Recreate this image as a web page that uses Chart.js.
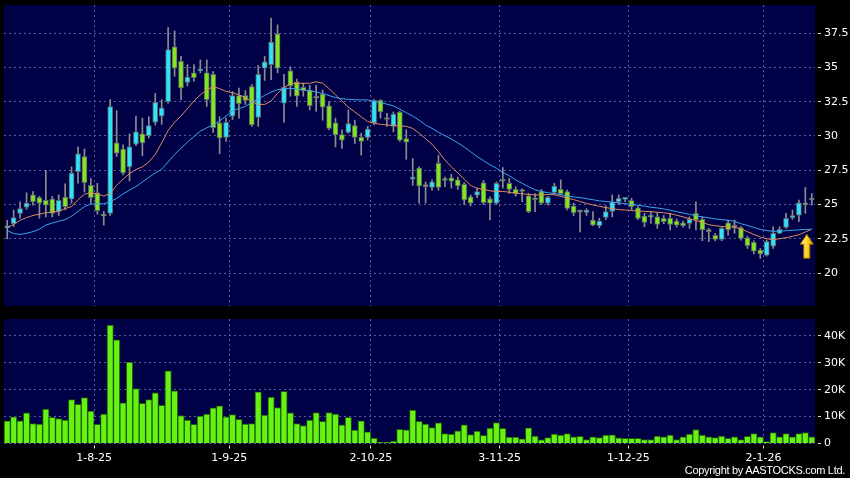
<!DOCTYPE html>
<html><head><meta charset="utf-8">
<script src="https://cdn.jsdelivr.net/npm/chart.js@4.4.1/dist/chart.umd.min.js"></script>
<style>
html,body{margin:0;padding:0;background:#000;width:850px;height:478px;overflow:hidden;}
#c1{position:absolute;left:0;top:0;}
#c2{position:absolute;left:0;top:312px;}
#copy{position:absolute;right:5px;top:464px;color:#fff;font:11px 'Liberation Sans',sans-serif;letter-spacing:-0.3px;line-height:13px;white-space:nowrap;}
</style></head><body>
<canvas id="c1" width="850" height="312"></canvas>
<canvas id="c2" width="850" height="166"></canvas>
<div id="copy">Copyright by AASTOCKS.com Ltd.</div>
<script>
const dates = [
'14-7-25','15-7-25','16-7-25','17-7-25','18-7-25','21-7-25','22-7-25','23-7-25','24-7-25','25-7-25','28-7-25','29-7-25','30-7-25','31-7-25',
'1-8-25','4-8-25','5-8-25','6-8-25','7-8-25','8-8-25','11-8-25','12-8-25','13-8-25','14-8-25','15-8-25','18-8-25','19-8-25','20-8-25','21-8-25','22-8-25','25-8-25','26-8-25','27-8-25','28-8-25','29-8-25',
'1-9-25','2-9-25','3-9-25','4-9-25','5-9-25','8-9-25','9-9-25','10-9-25','11-9-25','12-9-25','15-9-25','16-9-25','17-9-25','18-9-25','19-9-25','22-9-25','23-9-25','24-9-25','25-9-25','26-9-25','29-9-25','30-9-25',
'2-10-25','3-10-25','6-10-25','8-10-25','9-10-25','10-10-25','13-10-25','14-10-25','15-10-25','16-10-25','17-10-25','20-10-25','21-10-25','22-10-25','23-10-25','24-10-25','27-10-25','28-10-25','30-10-25','31-10-25',
'3-11-25','4-11-25','5-11-25','6-11-25','7-11-25','10-11-25','11-11-25','12-11-25','13-11-25','14-11-25','17-11-25','18-11-25','19-11-25','20-11-25','21-11-25','24-11-25','25-11-25','26-11-25','27-11-25','28-11-25',
'1-12-25','2-12-25','3-12-25','4-12-25','5-12-25','8-12-25','9-12-25','10-12-25','11-12-25','12-12-25','15-12-25','16-12-25','17-12-25','18-12-25','19-12-25','22-12-25','23-12-25','24-12-25','29-12-25','30-12-25','31-12-25',
'2-1-26','5-1-26','6-1-26','7-1-26','8-1-26','9-1-26','12-1-26','13-1-26'];
const tickLabels = ['1-8-25','1-9-25','2-10-25','3-11-25','1-12-25','2-1-26'];
const priceTicks = [20,22.5,25,27.5,30,32.5,35,37.5];
const volTicks = [0,10,20,30,40];
const volTickLabels = ['0','10K','20K','30K','40K'];

const open = [
23.3,23.6,24.35,24.8,25.7,25.5,25.3,25.4,24.5,25.55,
25.4,27.4,28.5,26.4,25.85,24.15,24.35,29.5,29.05,27.75,
29.4,30.15,30.0,31.0,31.45,32.5,36.5,35.45,33.9,34.6,
34.75,34.6,34.5,30.95,29.9,31.45,32.95,32.95,33.6,31.35,
34.95,35.2,37.45,32.4,34.75,33.95,33.55,33.35,32.75,33.05,
32.2,30.95,30.1,30.25,30.75,29.9,29.9,30.95,32.6,31.2,
30.7,31.75,29.8,26.85,27.65,26.3,26.25,28.0,26.8,26.95,
26.8,26.47,25.57,25.69,26.59,25.42,25.09,26.7,26.55,26.1,
25.95,25.64,25.35,25.94,25.09,25.89,26.1,25.94,24.89,24.45,
24.43,23.87,23.45,24.06,24.5,25.2,25.38,25.28,24.75,24.16,
24.08,24.11,23.99,23.99,23.8,23.67,23.63,24.36,23.92,23.02,
22.75,22.46,23.67,23.35,23.31,22.58,22.24,21.68,21.31,21.97,
22.9,23.33,24.04,24.23,24.97,25.33];
const close = [
23.35,24.05,24.7,25.1,25.2,25.1,24.95,24.35,25.3,24.85,
27.3,28.7,26.6,25.5,24.55,24.15,32.15,28.75,27.3,29.2,
30.3,29.5,30.75,32.45,32.05,36.3,34.95,33.5,34.3,34.25,
34.85,32.65,30.6,29.85,31.0,32.95,32.35,32.6,30.8,34.5,
35.4,36.85,34.95,33.55,33.65,32.9,33.3,32.2,32.75,32.1,
30.55,30.1,29.7,30.9,29.9,29.6,30.5,32.6,31.75,31.2,
31.6,29.7,29.55,26.95,26.35,26.3,26.65,26.25,26.75,26.7,
26.35,25.33,25.09,25.95,25.13,25.09,26.55,26.7,26.1,25.8,
25.95,24.48,25.35,25.09,25.52,26.35,25.8,24.72,24.4,24.45,
24.6,23.5,23.8,24.48,25.2,25.45,25.4,24.84,23.99,23.7,
24.2,23.55,23.75,23.55,23.5,23.45,23.92,23.87,23.14,23.02,
22.46,23.26,23.14,23.35,22.53,22.0,21.6,21.39,22.29,22.9,
23.19,23.99,24.06,25.13,24.97,25.33];
const high = [
23.85,24.6,25.2,25.85,25.95,25.6,27.5,25.6,25.7,26.5,
27.75,29.2,29.05,26.9,26.55,24.5,32.65,31.85,29.35,30.15,
31.45,31.3,31.4,33.1,32.65,37.9,37.65,35.8,35.2,35.2,
35.55,35.55,34.7,31.4,31.3,33.25,33.5,33.3,33.75,35.15,
35.8,38.6,38.1,34.5,35.05,34.15,33.85,33.7,33.7,33.35,
32.5,31.3,30.45,31.9,31.15,30.2,30.7,32.65,32.65,31.65,
31.75,31.8,30.45,28.35,27.75,26.65,26.8,28.6,27.0,27.2,
27.0,26.6,25.7,26.2,26.75,25.57,26.65,27.7,26.9,26.3,
26.15,25.8,25.8,26.1,25.6,26.55,26.8,26.05,25.1,24.6,
24.7,24.48,24.0,24.9,25.7,25.7,25.5,25.45,24.85,24.36,
24.48,24.4,24.2,24.36,23.95,23.8,24.1,25.2,24.1,23.26,
22.9,23.38,23.87,23.87,23.4,22.7,22.35,21.8,22.41,23.38,
23.38,24.36,24.6,25.33,26.25,25.8];
const low = [
22.5,23.4,24.0,24.65,24.95,24.0,24.1,24.1,24.2,24.6,
25.1,26.55,25.9,25.1,24.3,23.5,24.2,28.5,27.15,26.7,
29.3,28.55,29.85,30.8,30.85,32.4,34.35,32.65,33.65,34.0,
34.6,32.15,30.25,28.7,29.6,31.2,31.3,32.3,30.7,30.7,
34.05,34.1,34.6,31.0,32.9,32.15,32.9,31.9,31.8,31.15,
30.45,29.2,29.1,30.2,29.45,28.6,29.7,30.8,31.3,30.7,
30.3,29.6,28.3,26.4,25.1,25.1,26.05,26.05,26.3,26.2,
26.1,25.0,24.9,25.5,25.0,23.87,25.0,26.2,25.8,25.6,
25.2,24.4,24.48,25.0,24.95,25.75,25.7,24.6,24.2,23.0,
24.2,23.45,23.3,23.9,24.1,25.0,25.2,24.6,23.9,23.38,
23.63,23.26,23.6,23.14,23.35,23.35,23.26,23.14,22.36,22.29,
22.35,22.36,22.77,22.9,22.4,21.8,21.4,21.07,21.24,21.8,
22.9,23.26,23.92,23.75,24.36,24.96];
const ma10 = [
23.3,23.55,23.85,24.05,24.2,24.3,24.4,24.45,24.5,24.7,
24.85,25.35,25.75,25.85,25.77,25.62,25.8,26.4,26.85,27.25,
27.55,27.75,28.1,28.65,29.5,30.4,31.0,31.45,32.0,32.55,
33.0,33.35,33.6,33.45,33.25,33.15,33.0,32.8,32.5,32.3,
32.3,32.55,33.1,33.55,33.8,33.84,33.84,33.84,33.95,33.85,
33.45,33.0,32.55,32.1,31.75,31.4,31.05,30.92,30.85,30.8,
30.77,30.73,30.7,30.55,30.2,29.8,29.4,28.85,28.25,27.75,
27.3,26.85,26.4,26.18,26.1,26.0,25.95,25.95,25.9,25.83,
25.78,25.74,25.7,25.71,25.72,25.72,25.6,25.47,25.36,25.22,
25.08,24.97,24.87,24.78,24.7,24.63,24.6,24.56,24.53,24.5,
24.48,24.44,24.4,24.33,24.22,24.1,23.96,23.83,23.7,23.53,
23.45,23.4,23.37,23.34,23.22,23.02,22.82,22.63,22.5,22.45,
22.5,22.58,22.68,22.8,23.0,23.2];
const ma20 = [
23.1,22.88,22.82,22.9,23.02,23.2,23.5,23.65,23.78,23.9,
24.15,24.5,24.85,25.04,25.04,25.06,25.2,25.45,25.77,26.05,
26.3,26.65,26.98,27.3,27.58,28.1,28.65,29.1,29.55,29.95,
30.35,30.6,30.8,31.1,31.45,31.85,32.0,32.15,32.45,32.7,
32.95,33.2,33.38,33.45,33.48,33.42,33.36,33.3,33.2,33.1,
32.95,32.8,32.72,32.67,32.64,32.63,32.63,32.52,32.43,32.32,
32.19,31.95,31.7,31.45,31.15,30.8,30.55,30.27,30.02,29.78,
29.5,29.2,28.85,28.5,28.2,27.9,27.65,27.35,27.1,26.8,
26.55,26.3,26.08,25.95,25.86,25.8,25.72,25.63,25.55,25.5,
25.43,25.35,25.27,25.22,25.17,25.12,25.06,25.0,24.95,24.88,
24.8,24.75,24.68,24.58,24.48,24.38,24.28,24.18,24.1,24.03,
23.95,23.9,23.85,23.78,23.6,23.47,23.33,23.18,23.1,23.05,
23.06,23.09,23.12,23.15,23.18,23.2];
const vol = [
8.4,9.9,8.4,11.4,7.4,7.2,12.8,9.7,9.3,8.7,
16.3,14.6,17.1,12.1,7.1,10.9,44.0,38.6,15.1,30.3,
20.4,14.9,16.3,18.8,14.2,27.0,19.6,10.4,8.7,7.1,
10.2,10.9,13.3,14.0,9.9,10.8,9.0,7.2,7.4,19.2,
10.6,17.3,13.4,19.4,11.4,7.4,6.7,8.7,11.5,8.2,
11.5,10.9,6.9,9.7,5.0,8.4,4.3,2.0,0.4,0.4,
0.9,5.3,5.1,12.4,8.2,7.2,5.9,7.7,3.7,3.5,
4.7,6.9,3.3,4.6,3.0,5.7,7.8,5.6,2.4,2.4,
1.7,5.8,2.8,1.4,2.2,3.5,3.1,3.7,2.5,2.7,
1.5,2.5,2.2,3.1,3.2,2.1,1.9,1.9,1.9,1.5,
1.5,2.8,2.5,3.1,1.5,2.5,3.5,5.2,3.1,2.5,
2.2,2.8,1.9,2.5,1.5,2.7,3.7,2.5,0.7,4.1,
2.5,3.7,2.5,3.7,4.1,2.5];

const NAVY = '#000046';
const GRID = '#575c9c';
const UP = '#30e3fb', DOWN = '#80e61e', FLAT = '#a3ad92';
const FONT = {family:'DejaVu Sans', size:11};
const isMonth = dates.map(d => tickLabels.includes(d));

const bgPlugin = {id:'bg', beforeDraw(c){const a=c.chartArea, ctx=c.ctx; ctx.save(); ctx.fillStyle=NAVY; ctx.fillRect(a.left,a.top,a.right-a.left,a.bottom-a.top); ctx.restore();}};

function xAxis(showLabels){
  return {
    type:'category', offset:true,
    grid:{offset:true, color:(c)=> isMonth[c.index] ? GRID : 'rgba(0,0,0,0)', lineWidth:1, borderDash:[2,3],
      drawTicks:showLabels, tickLength:5, tickWidth:1,
      tickColor:(c)=> isMonth[c.index] ? '#e0e0e0' : 'rgba(0,0,0,0)', tickBorderDash:[0,1.5,3.5,10]},
    border:{display:false, dash:[2,3]},
    ticks:{display:showLabels, autoSkip:false, maxRotation:0, minRotation:0, color:'#ffffff', font:FONT, padding:3, labelOffset:-3.2,
      callback:(v,i)=> isMonth[i] ? dates[i] : ''},
    afterFit:(s)=>{ s.height = showLabels ? 22 : 0; s.paddingLeft = 0; s.paddingRight = 0; }
  };
}
function yAxis(min,max,tickVals,fmt){
  return {
    position:'right', min:min, max:max,
    afterBuildTicks:(s)=>{ s.ticks = tickVals.map(v=>({value:v})); },
    grid:{color:GRID, lineWidth:1, borderDash:[2,3], tickLength:6, tickColor:'#e0e0e0', tickBorderDash:[0,3,3,10]},
    border:{display:false, dash:[2,3]},
    ticks:{color:'#ffffff', font:FONT, padding:3, callback:fmt},
    afterFit:(s)=>{ s.width = 35; s.paddingTop = 0; s.paddingBottom = 0; }
  };
}

const arrowPlugin = {id:'arrow', afterDatasetsDraw(c){
  const ctx=c.ctx, xs=c.scales.x, ys=c.scales.y, n=ma20.length-1;
  const cx = xs.getPixelForValue(n) - 5;
  const tip = ys.getPixelForValue(Math.min(ma10[n],ma20[n])) + 5;
  const headH = 10, totH = 24, hw = 6.5, sw = 3;
  ctx.save();
  const g = ctx.createLinearGradient(cx-hw,0,cx+hw,0);
  g.addColorStop(0,'#fff6a0'); g.addColorStop(0.5,'#ffd42a'); g.addColorStop(1,'#e8a300');
  ctx.fillStyle=g; ctx.strokeStyle='#a06a00'; ctx.lineWidth=1;
  ctx.beginPath();
  ctx.moveTo(cx, tip);
  ctx.lineTo(cx+hw, tip+headH);
  ctx.lineTo(cx+sw, tip+headH);
  ctx.lineTo(cx+sw, tip+totH);
  ctx.lineTo(cx-sw, tip+totH);
  ctx.lineTo(cx-sw, tip+headH);
  ctx.lineTo(cx-hw, tip+headH);
  ctx.closePath();
  ctx.fill(); ctx.stroke();
  ctx.restore();
}};

const bodyColors = open.map((o,i)=> close[i]>o ? UP : (close[i]<o ? DOWN : FLAT));

new Chart(document.getElementById('c1'), {
  type:'bar',
  data:{labels:dates, datasets:[
    {type:'line', data:ma20, borderColor:'#3aa6ee', borderWidth:1, pointRadius:0, tension:0, order:0},
    {type:'line', data:ma10, borderColor:'#df8a5c', borderWidth:1, pointRadius:0, tension:0, order:1},
    {type:'bar', data:open.map((o,i)=>[o,close[i]]), backgroundColor:bodyColors, borderColor:'#5d6a6a', borderWidth:1, borderSkipped:false, barThickness:5, minBarLength:2, grouped:false, order:2},
    {type:'bar', data:low.map((l,i)=>[l,high[i]]), backgroundColor:'#8d8d8d', borderWidth:0, barThickness:1, grouped:false, order:3}
  ]},
  options:{responsive:false, animation:false, devicePixelRatio:1,
    layout:{padding:{left:4,right:0,top:5,bottom:6}},
    plugins:{legend:{display:false}, tooltip:{enabled:false}},
    scales:{x:xAxis(false), y:yAxis(17.6,39.55,priceTicks,(v)=>String(v))}
  },
  plugins:[bgPlugin, arrowPlugin]
});

new Chart(document.getElementById('c2'), {
  type:'bar',
  data:{labels:dates, datasets:[
    {data:vol, backgroundColor:'#66f214', borderColor:'#1c5a06', borderWidth:1, barPercentage:1, categoryPercentage:1}
  ]},
  options:{responsive:false, animation:false, devicePixelRatio:1,
    layout:{padding:{left:4,right:0,top:7,bottom:12.5}},
    plugins:{legend:{display:false}, tooltip:{enabled:false}},
    scales:{x:xAxis(true), y:yAxis(0,46.3,volTicks,(v)=>volTickLabels[volTicks.indexOf(v)])}
  },
  plugins:[bgPlugin]
});
</script>
</body></html>
